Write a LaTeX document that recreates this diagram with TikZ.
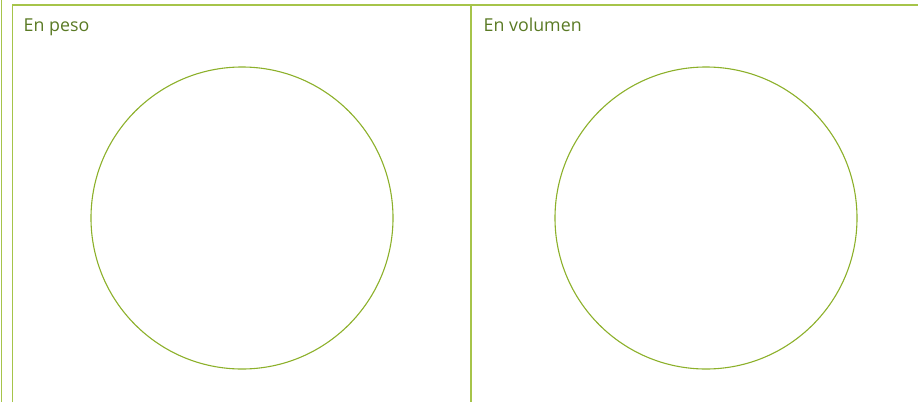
\documentclass[tikz,border=0pt]{standalone}
\usepackage{fontspec}
\setmainfont{Open Sans}
\usepackage{tikz}
\usetikzlibrary{positioning}
\definecolor{rulegreen}{HTML}{A6C44A}
\definecolor{ringgreen}{HTML}{8CB02A}
\definecolor{labelgreen}{HTML}{5A7A24}

\begin{document}
\begin{tikzpicture}[
    x=1pt, y=-1pt,
    rule/.style={draw=rulegreen, line width=1.6pt},
    thinrule/.style={draw=rulegreen, line width=1pt},
    ring/.style={
      circle, draw=ringgreen, line width=1.1pt,
      minimum size=302pt, inner sep=0pt
    },
    head/.style={
      font=\fontsize{17.8}{21}\selectfont, text=labelgreen,
      anchor=base west, inner sep=0pt
    }
  ]
    \useasboundingbox (0,0) rectangle (918,402);

    % ── Frame ──
    \draw[thinrule] (1,0) -- (1,402);
    \draw[rule] (12.5,402) -- (12.5,4.7) -- (918,4.7);
    \draw[rule] (471,4.7) -- (471,402);

    % ── Left panel ──
    \node[head] (pesolabel) at (23.5,31.5) {En peso};
    \node[ring] (peso) at (242,218) {};

    % ── Right panel ──
    \node[head] (volumenlabel) at (483.5,31.5) {En volumen};
    \node[ring] (volumen) at (706,218) {};

  \end{tikzpicture}
\end{document}
